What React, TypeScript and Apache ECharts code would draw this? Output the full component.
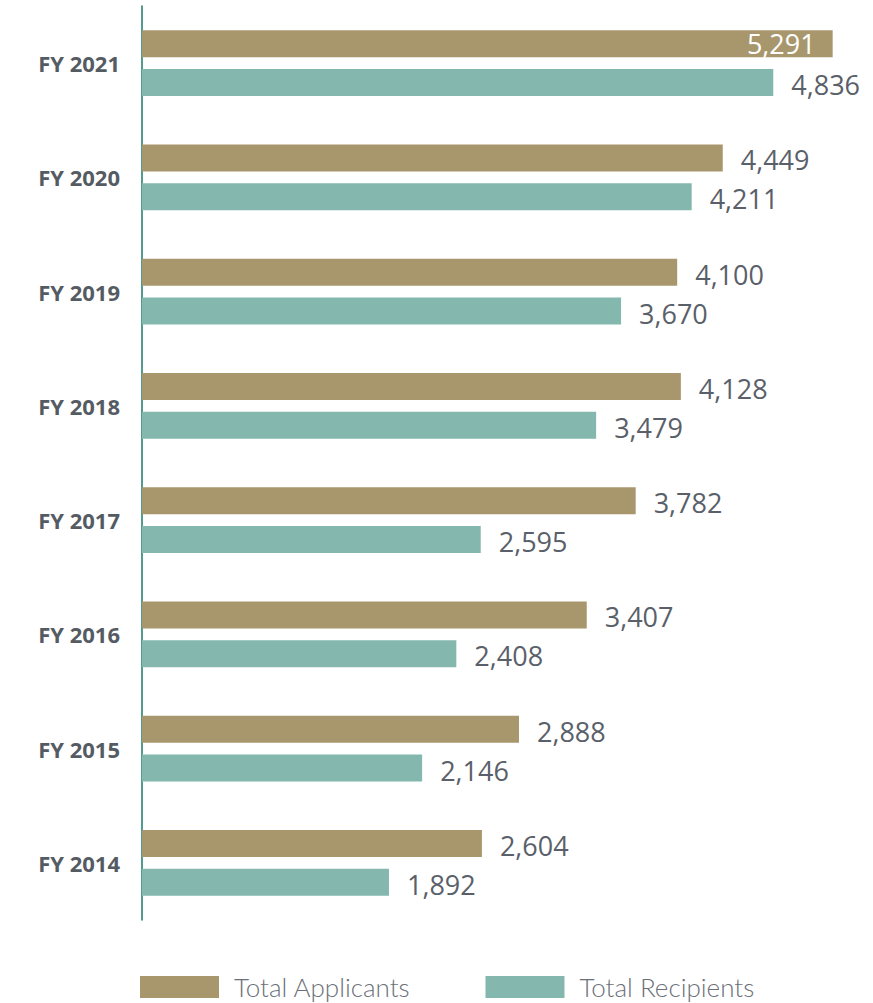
import React, { useEffect, useRef } from "react";
import * as echarts from "echarts";

const categories = ["FY 2021", "FY 2020", "FY 2019", "FY 2018", "FY 2017", "FY 2016", "FY 2015", "FY 2014"];
const applicants = [5291, 4449, 4100, 4128, 3782, 3407, 2888, 2604];
const recipients = [4836, 4211, 3670, 3479, 2595, 2408, 2146, 1892];
const seriesNames = ["Total Applicants", "Total Recipients"];

const TAN = "#a8976c";
const TEAL = "#84b8ae";
const LABEL = "#5a6069";

export default function App() {
  const ref = useRef<HTMLDivElement>(null);
  useEffect(() => {
    if (!ref.current) return;
    const chart = echarts.init(ref.current, undefined, { renderer: "svg" });
    const fmt = (p: any) => Number(p.value).toLocaleString("en-US");
    const labelBase = {
      show: true,
      position: "right",
      distance: 18,
      fontSize: 27,
      fontFamily: "Open Sans",
      color: LABEL,
      offset: [0, 2],
      formatter: fmt,
    };
    chart.setOption({
      animation: false,
      grid: { left: 142, top: 6, width: 731, height: 914, containLabel: false },
      legend: {
        left: 140,
        top: 974,
        padding: 0,
        itemWidth: 79,
        itemHeight: 22,
        itemGap: 75,
        icon: "rect",
        data: seriesNames,
        textStyle: {
          fontSize: 26,
          lineHeight: 26,
          fontFamily: "Lato",
          fontWeight: 300,
          color: "#6b7079",
          padding: [0, 0, 0, 10],
        },
      },
      xAxis: {
        type: "value",
        min: 0,
        max: 5600,
        show: false,
      },
      yAxis: {
        type: "category",
        data: categories,
        inverse: true,
        axisLine: { show: true, lineStyle: { color: "#1a7a6a", width: 1.5 } },
        axisTick: { show: false },
        axisLabel: {
          margin: 22,
          fontSize: 22,
          fontWeight: "bold",
          fontFamily: "Open Sans",
          color: "#555b63",
        },
      },
      series: [
        {
          name: seriesNames[0],
          type: "bar",
          data: applicants.map((v, i) =>
            i === 0
              ? { value: v, label: { position: "insideRight", distance: 17, color: "#ffffff", offset: [0, 0] } }
              : v
          ),
          barWidth: 27,
          barGap: "44%",
          itemStyle: { color: TAN },
          label: labelBase,
        },
        {
          name: seriesNames[1],
          type: "bar",
          data: recipients,
          barWidth: 27,
          itemStyle: { color: TEAL },
          label: labelBase,
        },
      ],
    });
    return () => chart.dispose();
  }, []);
  return (
    <div
      ref={ref}
      style={{ position: "fixed", left: 0, top: 0, width: 873, height: 1003, background: "#fff" }}
    />
  );
}
